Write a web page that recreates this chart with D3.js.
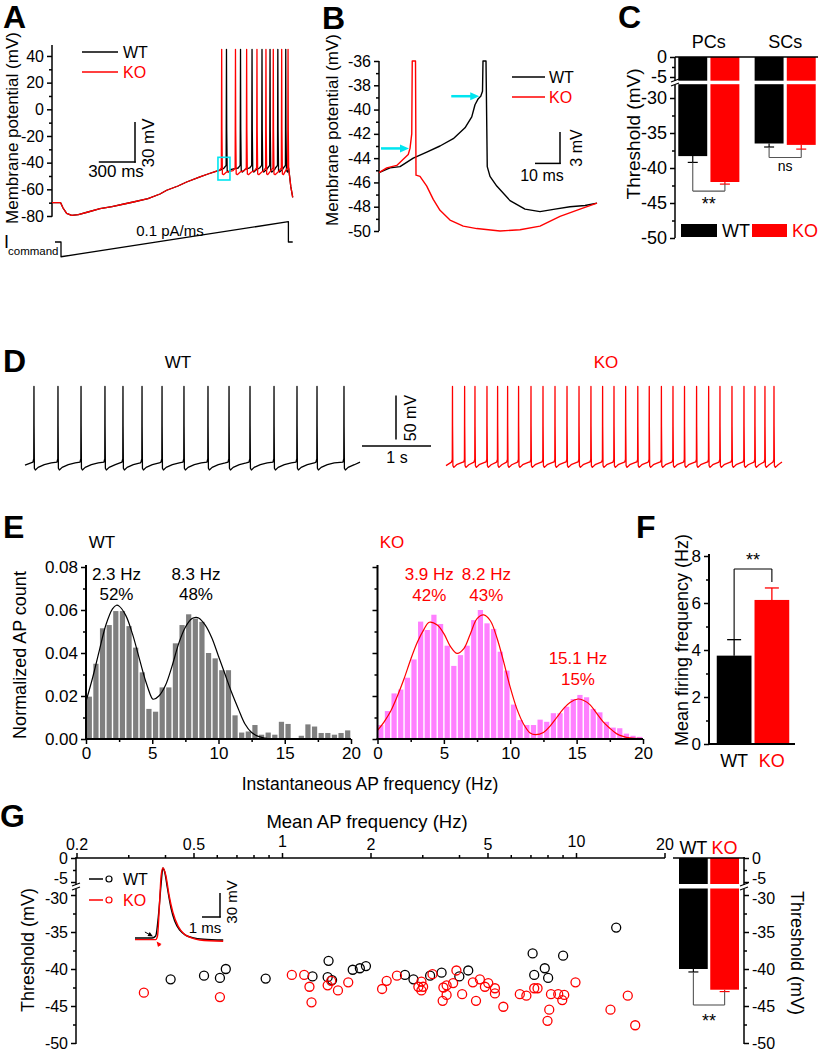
<!DOCTYPE html>
<html><head><meta charset="utf-8">
<script src="https://cdn.jsdelivr.net/npm/d3@7"></script>
<style>body{margin:0;background:#fff}svg{display:block}</style>
</head><body>
<svg id="fig" width="819" height="1050"></svg>
<script>
// ================= DATA =================
// Panel A (ramp protocol), time in ms, voltage in mV
const aRampT = [0, 72, 92, 122, 164, 220, 300, 400, 500, 600, 678, 800, 900, 956, 1050, 1122, 1233, 1300, 1372, 1420, 1450];
const aRampV = [-70, -70, -74, -78, -79.5, -79, -77, -74.5, -73, -71, -69.5, -67, -63.5, -60.7, -57.5, -54.5, -50.7, -48.5, -46.3, -45, -44];
const aSpikesWT = [1454, 1571, 1667, 1750, 1817, 1882, 1948];
const aSpikesKO = [1414, 1529, 1622, 1708, 1783, 1844, 1914, 1967];
const aShapeDt = [-20, -3, 0, 2, 6, 15, 40];
const aShapeWT = [-44, -42, 45, -15, -46, -47, -45];
const aShapeKO = [-46, -44, 45, -15, -48.5, -49, -47];
const aTailT = [1972, 1990, 2006];
const aTailV = [-44, -58, -66];
const aCmdT = [25, 75, 75, 1970, 1970, 2006];
const aCmdI = [0, 0, -80, 110, 0, 0];
const aBoxT = [1383, 1483];
const aBoxV = [-36, -53];

// Panel B, time in ms, voltage in mV
const bKO_T = [0, 3.1, 7.1, 9.7, 11.7, 12.4, 13.1, 13.3, 14.6, 14.8, 16.4, 19.1, 21.7, 24.4, 28.4, 33.7, 39.1, 48.4, 56.4, 64.4, 72.4, 80.4, 87.2];
const bKO_V = [-45.2, -44.8, -44.6, -44.1, -43.7, -43.2, -42, -36, -36, -45.4, -45.5, -46.3, -47.4, -48.3, -49.1, -49.6, -49.8, -50.0, -49.9, -49.6, -48.8, -48.2, -47.7];
const bWT_T = [0, 4.4, 8.4, 13.7, 19.1, 24.4, 29.7, 34.4, 37.1, 38.4, 39.7, 40.7, 41.4, 41.6, 42.8, 43.3, 44.4, 47.1, 52.4, 58.4, 64.4, 70.4, 76.4, 82.4, 87.2];
const bWT_V = [-45.2, -44.8, -44.7, -44.0, -43.5, -43.0, -42.4, -41.5, -40.6, -39.6, -39.1, -38.9, -38.5, -36, -36, -44.7, -45.5, -46.3, -47.5, -48.2, -48.4, -48.2, -48.0, -47.9, -47.7];
const bThrT = [12.4, 40.5];
const bThrV = [-43.2, -38.9];

// Panel C
const cGroups = ['PCs', 'SCs'];
const cWT = [-38.3, -36.5];
const cKO = [-42.0, -36.7];
const cWTerr = [0.9, 0.5];
const cKOerr = [0.3, 0.6];

// Panel D, spike times in s
const dSpikesWT = [0.13, 0.478, 0.812, 1.159, 1.42, 1.696, 1.986, 2.304, 2.652, 2.957, 3.261, 3.609, 3.942, 4.232, 4.623];
const dSpikesKO = [0.094, 0.27, 0.42, 0.594, 0.748, 0.893, 1.052, 1.232, 1.406, 1.58, 1.754, 1.928, 2.101, 2.27, 2.435, 2.604, 2.78, 2.946, 3.122, 3.29, 3.457, 3.632, 3.807, 3.971, 4.145, 4.319, 4.478, 4.623, 4.754];
const dShapeDt = [-15, -3, 0, 1.5, 6, 20, 60, 150, 250];
const dShapeWT = [-51, -47, 35, -10, -58, -60, -57, -54, -52];
const dShapeKO = [-51, -48, 35, -10, -55, -57, -54, -51, -50];

// Panel E, 0.5 Hz bins 0..20 Hz
const eBins = d3.range(0, 20, 0.5);
const eWT = [0.0197, 0.035, 0.0515, 0.053, 0.0595, 0.0595, 0.0525, 0.0425, 0.031, 0.014, 0.0127, 0.024, 0.024, 0.0445, 0.053, 0.058, 0.056, 0.0545, 0.040, 0.0375, 0.032, 0.032, 0.011, 0.003, 0.0035, 0.0065, 0.002, 0.003, 0.002, 0.008, 0.007, 0.0, 0.0015, 0.0068, 0.0058, 0.0028, 0.0028, 0.002, 0.0028, 0.004];
const eKO = [0.0065, 0.013, 0.0212, 0.023, 0.0285, 0.037, 0.0546, 0.0507, 0.0578, 0.0535, 0.0434, 0.034, 0.039, 0.0434, 0.0553, 0.060, 0.0538, 0.0512, 0.0406, 0.0318, 0.016, 0.0088, 0.0065, 0.0065, 0.009, 0.008, 0.012, 0.012, 0.015, 0.0186, 0.0205, 0.0194, 0.014, 0.0124, 0.008, 0.0053, 0.005, 0.0025, 0.0015, 0.001];
const eFitWT_F = [0, 0.5, 1, 1.5, 2, 2.3, 2.5, 3, 3.5, 4, 4.5, 5, 5.1, 5.5, 6, 6.5, 7, 7.5, 8, 8.3, 8.5, 9, 9.5, 10, 10.5, 11, 11.5, 12, 12.5, 13, 13.5, 14];
const eFitWT_V = [0.0175, 0.0285, 0.041, 0.053, 0.0605, 0.0622, 0.0618, 0.0575, 0.049, 0.038, 0.027, 0.0188, 0.0185, 0.020, 0.025, 0.034, 0.0445, 0.052, 0.056, 0.0566, 0.0563, 0.053, 0.047, 0.0385, 0.030, 0.0215, 0.014, 0.007, 0.003, 0.0012, 0.0004, 0];
const eFitKO_F = [0, 0.5, 1, 1.5, 2, 2.5, 3, 3.5, 3.9, 4.5, 5, 5.5, 6, 6.5, 7, 7.5, 8, 8.5, 9, 9.5, 10, 10.5, 11, 11.5, 11.9, 12.5, 13, 13.5, 14, 14.5, 15.1, 15.5, 16, 16.5, 17, 17.5, 18, 18.5, 19, 20];
const eFitKO_V = [0.004, 0.008, 0.013, 0.020, 0.028, 0.037, 0.045, 0.051, 0.0543, 0.053, 0.049, 0.043, 0.0398, 0.042, 0.049, 0.056, 0.0577, 0.055, 0.047, 0.036, 0.024, 0.014, 0.007, 0.0028, 0.002, 0.003, 0.006, 0.010, 0.014, 0.017, 0.0186, 0.018, 0.016, 0.012, 0.008, 0.005, 0.0025, 0.0012, 0.0005, 0.0002];
const eLabelsWT = [{f: 2.3, hz: '2.3 Hz', pct: '52%'}, {f: 8.3, hz: '8.3 Hz', pct: '48%'}];
const eLabelsKO = [{f: 3.9, hz: '3.9 Hz', pct: '42%'}, {f: 8.2, hz: '8.2 Hz', pct: '43%'}, {f: 15.1, hz: '15.1 Hz', pct: '15%'}];

// Panel F
const fGroups = ['WT', 'KO'];
const fMean = [3.76, 6.13];
const fErr = [0.68, 0.51];

// Panel G
const gWTfreq = [0.418, 0.543, 0.615, 0.644, 0.88, 1.27, 1.44, 1.43, 1.48, 1.74, 1.84, 1.93, 2.62, 2.80, 3.19, 3.49, 4.01, 4.30, 7.12, 7.21, 7.83, 8.04, 9.04, 13.7];
const gWTthr = [-41.4, -40.9, -41.2, -40.0, -41.3, -41.0, -38.9, -41.1, -41.5, -40.1, -39.9, -39.6, -40.8, -41.4, -40.9, -40.5, -41.0, -40.2, -37.9, -40.8, -39.9, -41.2, -38.2, -34.4];
const gKOfreq = [0.339, 0.615, 1.08, 1.19, 1.24, 1.26, 1.43, 1.47, 1.55, 1.68, 2.19, 2.27, 2.46, 2.91, 2.98, 3.02, 2.98, 3.25, 3.52, 3.54, 3.63, 3.63, 3.82, 3.92, 4.10, 4.46, 4.57, 4.71, 4.90, 5.03, 5.30, 5.30, 5.66, 6.44, 6.78, 7.21, 7.40, 8.11, 8.0, 8.22, 8.70, 8.98, 9.12, 9.96, 13.1, 15.0, 15.9];
const gKOthr = [-43.2, -43.8, -40.8, -40.8, -42.4, -44.5, -42.2, -41.6, -42.9, -41.8, -42.7, -41.6, -40.9, -42.4, -41.7, -42.4, -42.9, -40.7, -44.3, -42.5, -43.5, -42.2, -41.9, -40.2, -43.4, -41.8, -44.3, -41.4, -42.4, -41.9, -42.6, -43.3, -45.1, -43.4, -43.6, -42.6, -42.6, -45.5, -47.0, -43.4, -43.4, -44.2, -43.5, -41.8, -45.5, -43.6, -47.6];
const gFreqTicks = [0.2, 0.5, 1, 2, 5, 10, 20];
const gFreqMinor = [0.3, 0.4, 0.6, 0.7, 0.8, 0.9, 3, 4, 6, 7, 8, 9];
const gMean = [-40.0, -42.8];
const gErr = [0.4, 0.25];
const gInsetWT_T = [0, 0.95, 1.15, 1.3, 1.45, 1.55, 1.65, 1.8, 2.0, 2.2, 2.5, 2.8, 3.2, 3.8, 4.9];
const gInsetWT_V = [-57.5, -57.5, -55, -30, 10, 30, 25, 5, -20, -36, -48, -54, -57, -59, -60];
const gInsetKO_T = [0, 1.15, 1.25, 1.35, 1.45, 1.55, 1.7, 1.9, 2.1, 2.4, 2.7, 3.1, 3.6, 4.9];
const gInsetKO_V = [-59.5, -59.5, -55, -20, 20, 30, 22, -5, -25, -43, -52, -57, -60, -61.5];

// ================= HELPERS =================
const FONT = '"Liberation Sans", Arial, Helvetica, sans-serif';
const RED = '#ff0000', CYAN = '#00e5f0', MAG = '#ff80ff', GRAY = '#7f7f7f';
const svg = d3.select('#fig');
svg.append('rect').attr('width', 819).attr('height', 1050).attr('fill', '#fff');

function T(x, y, s, o = {}) {
  const t = svg.append('text').attr('x', x).attr('y', y).text(s)
    .attr('font-size', o.size || 17).attr('fill', o.fill || '#000')
    .attr('text-anchor', o.anchor || 'middle').attr('font-family', FONT);
  if (o.weight) t.attr('font-weight', o.weight);
  if (o.rot) t.attr('transform', `rotate(${o.rot},${x},${y})`);
  if (o.db) t.attr('dominant-baseline', o.db);
  return t;
}
function L(x1, y1, x2, y2, o = {}) {
  return svg.append('line').attr('x1', x1).attr('y1', y1).attr('x2', x2).attr('y2', y2)
    .attr('stroke', o.stroke || '#000').attr('stroke-width', o.w || 1.5).attr('fill', 'none');
}
function P(pts, o = {}) {
  return svg.append('path').attr('d', (o.curve ? d3.line().curve(o.curve) : d3.line())(pts))
    .attr('fill', 'none').attr('stroke', o.stroke || '#000').attr('stroke-width', o.w || 1.3)
    .attr('stroke-linejoin', 'round');
}
function ticks(gen, scale, vals, size, fmt, tx, ty, fs) {
  const g = svg.append('g').attr('transform', `translate(${tx},${ty})`)
    .call(gen(scale).tickValues(vals).tickSize(size).tickSizeOuter(0).tickPadding(3).tickFormat(fmt || (() => '')));
  g.select('.domain').remove();
  g.attr('font-family', FONT).attr('font-size', fs || 17);
  g.selectAll('line').attr('stroke', '#000').attr('stroke-width', 1.5);
  g.selectAll('text').attr('fill', '#000');
  return g;
}
function arrow(x1, y1, x2, y2, color, w, head) {
  const a = Math.atan2(y2 - y1, x2 - x1), c = Math.cos(a), s = Math.sin(a);
  L(x1, y1, x2 - c * head * 0.7, y2 - s * head * 0.7, {stroke: color, w});
  const p = [[x2, y2], [x2 - head * c + head * 0.45 * s, y2 - head * s - head * 0.45 * c], [x2 - head * c - head * 0.45 * s, y2 - head * s + head * 0.45 * c]];
  svg.append('path').attr('d', 'M' + p.join('L') + 'Z').attr('fill', color);
}
function spikeTrace(baseT, baseV, spikes, shDt, shV, unit, tailT, tailV) {
  const pts = [];
  const first = spikes[0] + shDt[0] * unit;
  baseT.forEach((t, i) => { if (t < first) pts.push([t, baseV[i]]); });
  spikes.forEach((s, k) => {
    const next = k < spikes.length - 1 ? spikes[k + 1] + shDt[0] * unit - 2 * unit : tailT[0];
    shDt.forEach((dt, j) => { const t = s + dt * unit; if (dt <= 0 || t < next) pts.push([t, shV[j]]); });
  });
  tailT.forEach((t, i) => pts.push([t, tailV[i]]));
  return pts;
}
const fmtInt = d => String(d);

// ================= PANEL A =================
T(3, 28, 'A', {size: 32, weight: 'bold', anchor: 'start'});
const aX = d3.scaleLinear().domain([0, 2000]).range([52, 292]);
const aY = d3.scaleLinear().domain([-80, 48]).range([216, 45.3]);
L(52, 45, 52, 216.7, {w: 1.5});
ticks(d3.axisLeft, aY, d3.range(-80, 41, 20), 5, fmtInt, 52, 0, 16);
ticks(d3.axisLeft, aY, d3.range(-70, 41, 20), 3, null, 52, 0);
T(12, 128, 'Membrane potential (mV)', {size: 17, rot: -90, db: 'central'});
const aWT = spikeTrace(aRampT, aRampV, aSpikesWT, aShapeDt, aShapeWT, 1, aTailT, aTailV);
const aKO = spikeTrace(aRampT, aRampV, aSpikesKO, aShapeDt, aShapeKO, 1, aTailT, aTailV);
P(aWT.map(d => [aX(d[0]), aY(d[1])]), {stroke: '#000', w: 1.3});
P(aKO.map(d => [aX(d[0]), aY(d[1])]), {stroke: RED, w: 1.3});
svg.append('rect').attr('x', aX(aBoxT[0])).attr('y', aY(aBoxV[0])).attr('width', aX(aBoxT[1]) - aX(aBoxT[0]))
  .attr('height', aY(aBoxV[1]) - aY(aBoxV[0])).attr('fill', 'none').attr('stroke', CYAN).attr('stroke-width', 1.6);
// legend
L(82, 52, 118, 52, {w: 1.5}); T(123, 52, 'WT', {size: 16, anchor: 'start', db: 'central'});
L(82, 72, 118, 72, {stroke: RED, w: 1.5}); T(123, 72, 'KO', {size: 16, anchor: 'start', db: 'central', fill: RED});
// scale bar: 300 ms x 30 mV
L(135, aY(-9.5), 135, aY(-39.5) + 0.7, {w: 1.5}); L(aX(390), aY(-39.5), 135.7, aY(-39.5), {w: 1.5});
T(116, 177, '300 ms', {size: 17});
T(148, 143, '30 mV', {size: 17, rot: -90, db: 'central'});
// command
const aCmdY = d3.scaleLinear().domain([0, 110]).range([242, 221.7]);
P(aCmdT.map((t, i) => [aX(t), aCmdY(aCmdI[i])]), {stroke: '#000', w: 1.3});
T(4, 248, 'I', {size: 18, anchor: 'start'});
T(8, 255, 'command', {size: 11.5, anchor: 'start'});
T(170, 236, '0.1 pA/ms', {size: 15});

// ================= PANEL B =================
T(322, 29, 'B', {size: 32, weight: 'bold', anchor: 'start'});
const bX = d3.scaleLinear().domain([0, 87.2]).range([379, 597]);
const bY = d3.scaleLinear().domain([-50, -36]).range([231, 61]);
L(379, 61, 379, 231, {w: 1.5});
ticks(d3.axisLeft, bY, d3.range(-50, -35, 2), 5, fmtInt, 379, 0, 16);
ticks(d3.axisLeft, bY, d3.range(-49, -36, 2), 3, null, 379, 0);
T(332, 130, 'Membrane potential (mV)', {size: 17, rot: -90, db: 'central'});
P(bWT_T.map((t, i) => [bX(t), bY(bWT_V[i])]), {stroke: '#000', w: 1.4});
P(bKO_T.map((t, i) => [bX(t), bY(bKO_V[i])]), {stroke: RED, w: 1.4});
bThrT.forEach((t, i) => arrow(bX(t - 11.6), bY(bThrV[i]), bX(t) - 1, bY(bThrV[i]), CYAN, 2.5, 9));
L(512, 77, 545, 77, {w: 1.5}); T(549, 77, 'WT', {size: 16, anchor: 'start', db: 'central'});
L(512, 97, 545, 97, {stroke: RED, w: 1.5}); T(549, 97, 'KO', {size: 16, anchor: 'start', db: 'central', fill: RED});
L(560, 132, 560, 164, {w: 1.5}); L(bX(62.4), 163.4, 560.7, 163.4, {w: 1.5});
T(542, 181, '10 ms', {size: 16});
T(576, 148, '3 mV', {size: 16, rot: -90, db: 'central'});

// ================= PANEL C =================
T(618, 28, 'C', {size: 32, weight: 'bold', anchor: 'start'});
const cUp = d3.scaleLinear().domain([0, -5]).range([57, 77]);
const cLo = d3.scaleLinear().domain([-30, -50]).range([98, 238]);
const cX = d3.scaleBand().domain(cGroups).range([676, 818]).paddingInner(0.2).paddingOuter(0.03);
const cSub = d3.scaleBand().domain(['WT', 'KO']).range([0, cX.bandwidth()]).paddingInner(0.1);
cGroups.forEach((g, i) => {
  [['WT', cWT[i], cWTerr[i], '#000'], ['KO', cKO[i], cKOerr[i], RED]].forEach(([k, v, e, col]) => {
    const x = cX(g) + cSub(k), w = cSub.bandwidth();
    svg.append('rect').attr('x', x).attr('y', 57).attr('width', w).attr('height', cLo(v) - 57).attr('fill', col);
    L(x + w / 2, cLo(v), x + w / 2, cLo(v - e), {stroke: col, w: 1.2});
    L(x + w / 2 - 5, cLo(v - e), x + w / 2 + 5, cLo(v - e), {stroke: col, w: 1.2});
  });
  T(cX(g) + cX.bandwidth() / 2, 48, g, {size: 18});
});
svg.append('rect').attr('x', 676).attr('y', 80.7).attr('width', 143).attr('height', 3.5).attr('fill', '#fff');
L(675, 57, 818, 57, {w: 1.5});
L(675, 57, 675, 81, {w: 1.5}); L(675, 85, 675, 238, {w: 1.5});
L(671, 82, 679, 79, {w: 1.2}); L(671, 86, 679, 83, {w: 1.2});
ticks(d3.axisLeft, cUp, [0, -5], 5, fmtInt, 675, 0, 18);
ticks(d3.axisLeft, cUp, [-2.5], 3, null, 675, 0);
ticks(d3.axisLeft, cLo, [-30, -35, -40, -45, -50], 5, fmtInt, 675, 0, 18);
ticks(d3.axisLeft, cLo, [-32.5, -37.5, -42.5, -47.5], 3, null, 675, 0);
T(633, 134, 'Threshold (mV)', {size: 19, rot: -90, db: 'central'});
// significance
{
  const xa = cX('PCs') + cSub('WT') + cSub.bandwidth() / 2, xb = cX('PCs') + cSub('KO') + cSub.bandwidth() / 2;
  const yb = cLo(cKO[0] - cKOerr[0] - 1.0);
  L(xa, cLo(cWT[0] - cWTerr[0]), xa, yb, {stroke: '#555', w: 1.1}); L(xa, yb, xb, yb, {stroke: '#555', w: 1.1}); L(xb, yb, xb, cLo(cKO[0] - cKOerr[0]), {stroke: '#555', w: 1.1});
  T((xa + xb) / 2, 210, '**', {size: 18});
  const xc = cX('SCs') + cSub('WT') + cSub.bandwidth() / 2, xd = cX('SCs') + cSub('KO') + cSub.bandwidth() / 2;
  const yd = cLo(-38.5);
  L(xc, cLo(cWT[1] - cWTerr[1]), xc, yd, {stroke: '#555', w: 1.1}); L(xc, yd, xd, yd, {stroke: '#555', w: 1.1}); L(xd, yd, xd, cLo(cKO[1] - cKOerr[1]), {stroke: '#555', w: 1.1});
  T((xc + xd) / 2, 171, 'ns', {size: 14});
}
svg.append('rect').attr('x', 681).attr('y', 224).attr('width', 36).attr('height', 13).attr('fill', '#000');
T(722, 237, 'WT', {size: 18, anchor: 'start'});
svg.append('rect').attr('x', 752).attr('y', 224).attr('width', 35).attr('height', 13).attr('fill', RED);
T(792, 237, 'KO', {size: 18, anchor: 'start', fill: RED});

// ================= PANEL D =================
T(3, 372, 'D', {size: 32, weight: 'bold', anchor: 'start'});
const dY = d3.scaleLinear().domain([-60, 35]).range([470, 386.4]);
const dXwt = d3.scaleLinear().domain([0, 4.855]).range([25, 360]);
const dXko = d3.scaleLinear().domain([0, 4.87]).range([446, 782]);
const dWT = spikeTrace([0], [-54.5], dSpikesWT, dShapeDt, dShapeWT, 0.001, [4.855], [-51]);
const dKO = spikeTrace([0], [-55], dSpikesKO, dShapeDt, dShapeKO, 0.001, [4.87], [-51]);
P(dWT.map(d => [dXwt(d[0]), dY(d[1])]), {stroke: '#000', w: 1.3});
P(dKO.map(d => [dXko(d[0]), dY(d[1])]), {stroke: RED, w: 1.3});
T(178, 368, 'WT', {size: 17});
T(606, 368, 'KO', {size: 17, fill: RED});
// scale bar: 50 mV x 1 s
L(396, dY(24.7), 396, dY(-25.3), {w: 1.5});
L(362, 446, 362 + (dXwt(1) - dXwt(0)), 446, {w: 1.5});
T(397, 463, '1 s', {size: 16});
T(410, 418, '50 mV', {size: 16, rot: -90, db: 'central'});

// ================= PANEL E =================
T(3, 538, 'E', {size: 32, weight: 'bold', anchor: 'start'});
const eY = d3.scaleLinear().domain([0, 0.08]).range([739, 567]);
const eXwt = d3.scaleLinear().domain([0, 20]).range([86, 351]);
const eXko = d3.scaleLinear().domain([0, 20]).range([377.5, 643]);
function hist(xs, vals, col) {
  const bw = xs(0.5) - xs(0);
  svg.append('g').selectAll('rect').data(vals).join('rect')
    .attr('x', (d, i) => xs(eBins[i]) + 0.7).attr('width', bw - 1.4)
    .attr('y', d => eY(d)).attr('height', d => eY(0) - eY(d)).attr('fill', col);
}
hist(eXwt, eWT, GRAY);
hist(eXko, eKO, MAG);
P(eFitWT_F.map((f, i) => [eXwt(f), eY(eFitWT_V[i])]), {stroke: '#000', w: 1.2, curve: d3.curveCatmullRom});
P(eFitKO_F.map((f, i) => [eXko(f), eY(eFitKO_V[i])]), {stroke: RED, w: 1.2, curve: d3.curveCatmullRom});
[eXwt, eXko].forEach((xs, k) => {
  const x0 = xs(0);
  L(x0, 565, x0, 740, {w: 2});
  L(x0 - 1, 739, xs(20), 739, {w: 2});
  ticks(d3.axisLeft, eY, [0, 0.02, 0.04, 0.06, 0.08], 5, k === 0 ? d3.format('.2f') : null, x0, 0, 17);
  ticks(d3.axisLeft, eY, [0.01, 0.03, 0.05, 0.07], 3, null, x0, 0);
  ticks(d3.axisBottom, xs, [0, 5, 10, 15, 20], 5, fmtInt, 0, 739, 17);
  ticks(d3.axisBottom, xs, [2.5, 7.5, 12.5, 17.5], 3, null, 0, 739);
});
T(102, 548, 'WT', {size: 17});
T(392, 548, 'KO', {size: 17, fill: RED});
eLabelsWT.forEach(d => { T(eXwt(d.f), 580, d.hz, {size: 17}); T(eXwt(d.f), 600, d.pct, {size: 17}); });
eLabelsKO.forEach((d, i) => {
  const y0 = i < 2 ? 580 : 664;
  T(eXko(d.f), y0, d.hz, {size: 17, fill: RED}); T(eXko(d.f), y0 + 21, d.pct, {size: 17, fill: RED});
});
T(20, 655, 'Normalized AP count', {size: 18, rot: -90, db: 'central'});
T(370, 790, 'Instantaneous AP frequency (Hz)', {size: 17.5});

// ================= PANEL F =================
T(636, 538, 'F', {size: 32, weight: 'bold', anchor: 'start'});
const fY = d3.scaleLinear().domain([0, 8]).range([744, 556]);
const fX = d3.scaleBand().domain(fGroups).range([716, 790]).paddingInner(0.08).paddingOuter(0.02);
fGroups.forEach((g, i) => {
  const col = i === 0 ? '#000' : RED, x = fX(g), w = fX.bandwidth(), cx = x + w / 2;
  svg.append('rect').attr('x', x).attr('y', fY(fMean[i])).attr('width', w).attr('height', fY(0) - fY(fMean[i])).attr('fill', col);
  L(cx, fY(fMean[i]), cx, fY(fMean[i] + fErr[i]), {stroke: col, w: 1.3});
  L(cx - 7, fY(fMean[i] + fErr[i]), cx + 7, fY(fMean[i] + fErr[i]), {stroke: col, w: 1.3});
  T(cx, 767, g, {size: 18, fill: col});
});
L(709, 554, 709, 745, {w: 2}); L(708, 744, 795, 744, {w: 2});
ticks(d3.axisLeft, fY, [0, 2, 4, 6, 8], 5, fmtInt, 709, 0, 17);
ticks(d3.axisLeft, fY, [1, 3, 5, 7], 3, null, 709, 0);
{
  const xa = fX('WT') + fX.bandwidth() / 2, xb = fX('KO') + fX.bandwidth() / 2;
  L(xa, fY(fMean[0] + fErr[0]), xa, 569, {w: 1.1}); L(xa, 569, xb, 569, {w: 1.1}); L(xb, 569, xb, fY(fMean[1] + fErr[1]) - 6, {w: 1.1});
  T((xa + xb) / 2, 566, '**', {size: 18});
}
T(682, 640, 'Mean firing frequency (Hz)', {size: 18, rot: -90, db: 'central'});

// ================= PANEL G =================
T(0, 827, 'G', {size: 32, weight: 'bold', anchor: 'start'});
const gX = d3.scaleLog().domain([0.2, 20]).range([76.5, 664.5]);
const gUp = d3.scaleLinear().domain([0, -5]).range([858, 882]);
const gLo = d3.scaleLinear().domain([-30, -50]).range([895, 1043]);
T(367, 828, 'Mean AP frequency (Hz)', {size: 18.5});
L(76, 858, 665, 858, {w: 1.5});
const gt = ticks(d3.axisTop, gX, gFreqTicks, 5, d => String(d), 0, 858, 16);
gt.selectAll('text').filter(d => d === 1 || d === 10).attr('y', -11);
ticks(d3.axisTop, gX, gFreqMinor, 3, null, 0, 858);
L(76, 857, 76, 885, {w: 1.5}); L(76, 889, 76, 1044, {w: 1.5});
L(72, 886, 80, 883, {w: 1.2}); L(72, 890, 80, 887, {w: 1.2});
const gl1 = ticks(d3.axisLeft, gUp, [0, -5], 5, fmtInt, 76, 0, 16);
gl1.selectAll('text').filter(d => d === -5).attr('dy', '0.1em');
ticks(d3.axisLeft, gUp, [-2.5], 3, null, 76, 0);
const gl2 = ticks(d3.axisLeft, gLo, [-30, -35, -40, -45, -50], 5, fmtInt, 76, 0, 16);
gl2.selectAll('text').filter(d => d === -30).attr('dy', '0.5em');
ticks(d3.axisLeft, gLo, [-32.5, -37.5, -42.5, -47.5], 3, null, 76, 0);
T(28, 950, 'Threshold (mV)', {size: 18, rot: -90, db: 'central'});
// scatter
svg.append('g').selectAll('circle').data(gWTfreq).join('circle')
  .attr('cx', d => gX(d)).attr('cy', (d, i) => gLo(gWTthr[i])).attr('r', 4.5)
  .attr('fill', 'none').attr('stroke', '#000').attr('stroke-width', 1.3);
svg.append('g').selectAll('circle').data(gKOfreq).join('circle')
  .attr('cx', d => gX(d)).attr('cy', (d, i) => gLo(gKOthr[i])).attr('r', 4.5)
  .attr('fill', 'none').attr('stroke', RED).attr('stroke-width', 1.3);
// legend
L(89, 879, 103, 879, {w: 1.5});
svg.append('circle').attr('cx', 109).attr('cy', 879).attr('r', 3).attr('fill', 'none').attr('stroke', '#000').attr('stroke-width', 1.2);
T(123, 879, 'WT', {size: 16, anchor: 'start', db: 'central'});
L(89, 900, 103, 900, {w: 1.5, stroke: RED});
svg.append('circle').attr('cx', 109).attr('cy', 900).attr('r', 3).attr('fill', 'none').attr('stroke', RED).attr('stroke-width', 1.2);
T(123, 900, 'KO', {size: 16, anchor: 'start', db: 'central', fill: RED});
// inset
const iX = d3.scaleLinear().domain([0, 5]).range([135, 225]);
const iY = d3.scaleLinear().domain([-60, 30]).range([940, 868]);
P(gInsetWT_T.map((t, i) => [iX(t), iY(gInsetWT_V[i])]), {stroke: '#000', w: 1.4, curve: d3.curveMonotoneX});
P(gInsetKO_T.map((t, i) => [iX(t), iY(gInsetKO_V[i])]), {stroke: RED, w: 1.4, curve: d3.curveMonotoneX});
arrow(iX(0.55), iY(-50), iX(1.0), iY(-55.5), '#000', 1, 5);
arrow(iX(1.4), iY(-67.5), iX(1.2), iY(-62), RED, 1, 5);
L(220, 893, 220, 917.5, {w: 1.5}); L(202, 917, 220.7, 917, {w: 1.5});
T(205, 933, '1 ms', {size: 15});
T(231, 902, '30 mV', {size: 15, rot: -90, db: 'central'});
// right bars
const gbX = d3.scaleBand().domain(fGroups).range([679, 739]).paddingInner(0.08);
fGroups.forEach((g, i) => {
  const col = i === 0 ? '#000' : RED, x = gbX(g), w = gbX.bandwidth(), cx = x + w / 2;
  svg.append('rect').attr('x', x).attr('y', 858).attr('width', w).attr('height', gLo(gMean[i]) - 858).attr('fill', col);
  L(cx, gLo(gMean[i]), cx, gLo(gMean[i] - gErr[i]), {stroke: col, w: 1.2});
  L(cx - 5, gLo(gMean[i] - gErr[i]), cx + 5, gLo(gMean[i] - gErr[i]), {stroke: col, w: 1.2});
  T(cx, 854, g, {size: 18, fill: col});
});
svg.append('rect').attr('x', 677).attr('y', 884).attr('width', 64).attr('height', 4.5).attr('fill', '#fff');
L(673, 858, 745, 858, {w: 1.5});
L(744, 857, 744, 885, {w: 1.5}); L(744, 889, 744, 1044, {w: 1.5});
L(740, 886, 748, 883, {w: 1.2}); L(740, 890, 748, 887, {w: 1.2});
const gr1 = ticks(d3.axisRight, gUp, [0, -5], 5, fmtInt, 744, 0, 16);
gr1.selectAll('text').filter(d => d === -5).attr('dy', '0.1em');
ticks(d3.axisRight, gUp, [-2.5], 3, null, 744, 0);
const gr2 = ticks(d3.axisRight, gLo, [-30, -35, -40, -45, -50], 5, fmtInt, 744, 0, 16);
gr2.selectAll('text').filter(d => d === -30).attr('dy', '0.5em');
ticks(d3.axisRight, gLo, [-32.5, -37.5, -42.5, -47.5], 3, null, 744, 0);
T(797, 953, 'Threshold (mV)', {size: 18, rot: 90, db: 'central'});
{
  const xa = gbX('WT') + gbX.bandwidth() / 2, xb = gbX('KO') + gbX.bandwidth() / 2;
  L(xa, gLo(gMean[0] - gErr[0]), xa, 1005, {stroke: '#555', w: 1.1}); L(xa, 1005, xb, 1005, {stroke: '#555', w: 1.1}); L(xb, 1005, xb, gLo(gMean[1] - gErr[1]), {stroke: '#555', w: 1.1});
  T((xa + xb) / 2, 1027, '**', {size: 18});
}
</script>
</body></html>
